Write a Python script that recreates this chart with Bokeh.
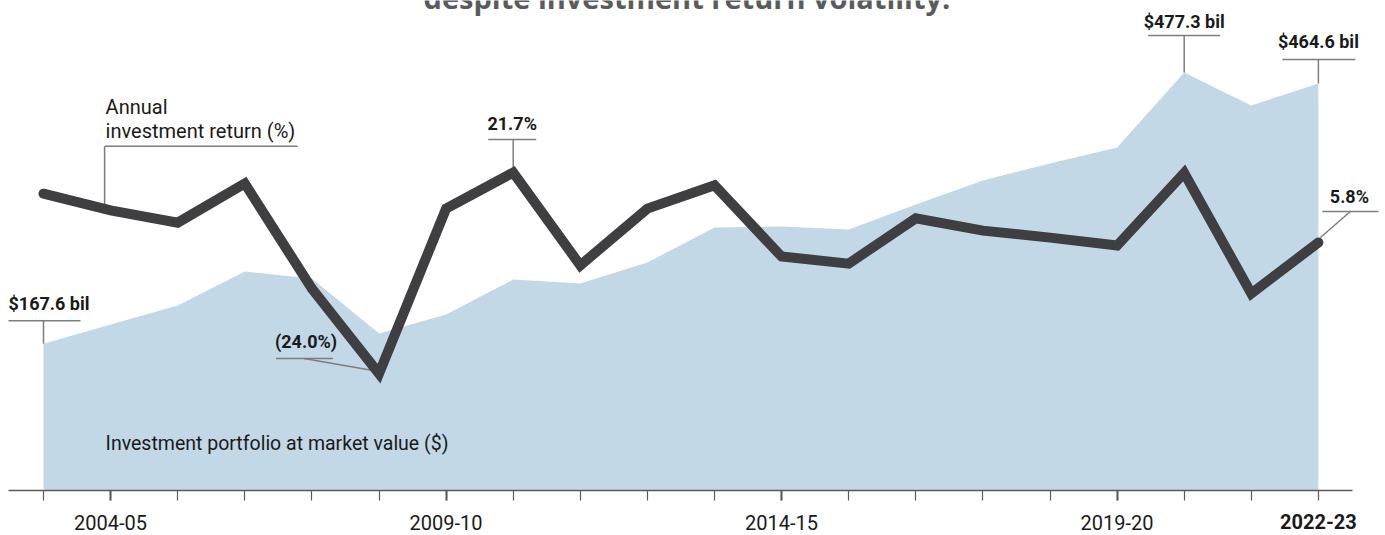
from bokeh.plotting import figure
from bokeh.models import Range1d, FixedTicker, Label, LinearAxis
from bokeh.embed import file_html
from bokeh.resources import INLINE

# ---------------- data ----------------
years = ["2003-04", "2004-05", "2005-06", "2006-07", "2007-08", "2008-09", "2009-10",
         "2010-11", "2011-12", "2012-13", "2013-14", "2014-15", "2015-16", "2016-17",
         "2017-18", "2018-19", "2019-20", "2020-21", "2021-22", "2022-23"]
portfolio_bil = [167.6, 189.5, 211.2, 250.0, 242.0, 179.2, 201.0, 240.9, 236.3, 260.3,
                 300.2, 301.4, 297.9, 326.5, 353.9, 373.3, 391.6, 477.3, 439.5, 464.6]
return_pct = [16.9, 13.1, 10.3, 19.2, -4.7, -24.0, 13.5, 21.7, 0.6, 13.5,
              18.8, 2.6, 1.0, 11.3, 8.5, 6.9, 5.1, 21.6, -5.8, 5.8]
labeled_years = ["2004-05", "2009-10", "2014-15", "2019-20"]
highlight_year = "2022-23"
title_text = "despite investment return volatility."
return_title = ["Annual", "investment return (%)"]
portfolio_title = "Investment portfolio at market value ($)"

# ---------------- layout constants ----------------
W, H = 1385, 535
FRAME_H = 490
X_PX = 67.1          # px per year
X0 = -43 / X_PX
V_PX = 0.876         # px per $bil
R_PX = 4.40          # px per return %
R_ZERO = 267.5       # px from top of frame to 0 %

AREA_COLOR = "#c3d8e6"
LINE_COLOR = "#3f3e40"
TEXT_COLOR = "#1a1a1a"
LEADER_COLOR = "#7d7d7d"
COND = "Roboto"
COND_SIZE = "18px"
SANS = "Roboto"
TICK_SIZE = "20px"
TICK_LABEL_H = 19


def px_x(n):
    return n / X_PX


def px_v(n):
    return n / V_PX


def px_r(n):
    return n / R_PX


idx = list(range(len(years)))

p = figure(width=W, height=H, output_backend="svg", toolbar_location=None,
           x_range=Range1d(X0, X0 + W / X_PX), y_range=Range1d(0, FRAME_H / V_PX),
           y_axis_location=None, min_border_left=0, min_border_right=0,
           min_border_top=0, min_border_bottom=H - FRAME_H)
p.extra_y_ranges = {"ret": Range1d(-(FRAME_H - R_ZERO) / R_PX, R_ZERO / R_PX)}
p.outline_line_color = None
p.grid.grid_line_color = None
p.background_fill_color = "white"
p.border_fill_color = "white"

# area
p.varea(x=idx, y1=0, y2=portfolio_bil, fill_color=AREA_COLOR)

# ---------------- callout leaders ----------------
pv = dict(x0=[], y0=[], x1=[], y1=[])
pr = dict(x0=[], y0=[], x1=[], y1=[])
labels = []


def seg(store, x0, y0, x1, y1):
    store["x0"].append(x0); store["y0"].append(y0)
    store["x1"].append(x1); store["y1"].append(y1)


# portfolio callouts: (index, underline above px, ul left, ul right, text dx, align, text centre above)
pf_callouts = [(0, 23, -35, 37, -35, "left", 40),
               (17, 37, -36, 36, 0, "center", 51),
               (19, 24, -36, 37, 0, "center", 42)]
for i, ua, ul, ur, tdx, al, ca in pf_callouts:
    v = portfolio_bil[i]
    seg(pv, i + px_x(ul), v + px_v(ua), i + px_x(ur), v + px_v(ua))
    seg(pv, i, v, i, v + px_v(ua))
    labels.append(Label(x=i + px_x(tdx), y=v + px_v(ca), text=f"${v:.1f} bil",
                        text_font=COND, text_font_style="bold", text_font_size=COND_SIZE,
                        text_color=TEXT_COLOR, text_align=al, text_baseline="middle"))


def fmt_ret(r):
    return f"({abs(r):.1f}%)" if r < 0 else f"{r:.1f}%"


# return callouts: (index, ul above, ul left, ul right, leader (dx0, up0, dx1, up1), text dx, align, centre above)
rt_callouts = [(7, 33, -25, 23, (0, 33, 0, 5), -1, "center", 49),
               (5, 15, -103, -46, (-75, 15, -6, 3), -104, "left", 32),
               (19, 31, 4, 60, (32, 31, 2, 5), 31, "center", 46)]
for i, ua, ul, ur, ld, tdx, al, ca in rt_callouts:
    r = return_pct[i]
    seg(pr, i + px_x(ul), r + px_r(ua), i + px_x(ur), r + px_r(ua))
    seg(pr, i + px_x(ld[0]), r + px_r(ld[1]), i + px_x(ld[2]), r + px_r(ld[3]))
    labels.append(Label(x=i + px_x(tdx), y=r + px_r(ca), text=fmt_ret(r),
                        text_font=COND, text_font_style="bold", text_font_size=COND_SIZE,
                        text_color=TEXT_COLOR, text_align=al, text_baseline="middle",
                        y_range_name="ret"))

# series title for the return line
ri = 1
rv = return_pct[ri]
seg(pr, ri + px_x(-6), rv + px_r(64), ri + px_x(187), rv + px_r(64))
seg(pr, ri + px_x(-6), rv + px_r(64), ri + px_x(-6), rv + px_r(3))
labels.append(Label(x=ri + px_x(-5), y=rv + px_r(103), text=return_title[0],
                    text_font=SANS, text_font_size="20px", text_color=TEXT_COLOR,
                    text_baseline="middle", y_range_name="ret"))
labels.append(Label(x=ri + px_x(-5), y=rv + px_r(79), text=return_title[1],
                    text_font=SANS, text_font_size="20px", text_color=TEXT_COLOR,
                    text_baseline="middle", y_range_name="ret"))

# series title for the area
labels.append(Label(x=1 + px_x(-5), y=px_v(47.5), text=portfolio_title,
                    text_font=SANS, text_font_size="19.5px", text_color=TEXT_COLOR,
                    text_baseline="middle"))

# chart title (cut off at the top as in the reference)
labels.append(Label(x=(len(years) - 1) / 2 + px_x(6), y=FRAME_H / V_PX + px_v(3),
                    text=title_text, text_font="Open Sans", text_font_style="bold",
                    text_font_size="29px", text_color="#5a5b5d", text_align="center",
                    text_baseline="middle"))

p.segment(x0="x0", y0="y0", x1="x1", y1="y1", source=pv, line_color=LEADER_COLOR, line_width=1.5)
p.segment(x0="x0", y0="y0", x1="x1", y1="y1", source=pr, line_color=LEADER_COLOR, line_width=1.5,
          y_range_name="ret")

# return line
p.line(x=idx, y=return_pct, y_range_name="ret", line_color=LINE_COLOR, line_width=10,
       line_join="miter", line_cap="round")

for lb in labels:
    p.add_layout(lb)

# ---------------- x axis ----------------
major = [years.index(y) for y in labeled_years]
ax = p.xaxis[0]
ax.ticker = FixedTicker(ticks=major, minor_ticks=idx)
ax.major_label_overrides = {i: years[i] for i in major}
ax.bounds = (X0 + px_x(8), X0 + px_x(1352))
ax.axis_line_color = "#5a5a5a"
ax.axis_line_width = 1.5
ax.major_tick_line_color = "#5a5a5a"
ax.major_tick_line_width = 2
ax.minor_tick_line_color = "#5a5a5a"
ax.minor_tick_line_width = 1.2
ax.major_tick_in = 0
ax.major_tick_out = 10
ax.minor_tick_in = 0
ax.minor_tick_out = 10
ax.major_label_standoff = 14
ax.major_label_text_font = SANS
ax.major_label_text_font_size = TICK_SIZE
ax.major_label_text_color = TEXT_COLOR

# bold label for the latest year, on a second (label-only) axis pulled up to the first one
hi = years.index(highlight_year)
ax2 = LinearAxis(ticker=FixedTicker(ticks=[hi], minor_ticks=[]),
                 major_label_overrides={hi: highlight_year},
                 axis_line_color=None, major_tick_line_color=None, minor_tick_line_color=None,
                 major_tick_in=0, major_tick_out=0, minor_tick_in=0, minor_tick_out=0,
                 major_label_standoff=-TICK_LABEL_H,
                 major_label_text_font=SANS, major_label_text_font_style="bold",
                 major_label_text_font_size=TICK_SIZE, major_label_text_color=TEXT_COLOR)
p.add_layout(ax2, "below")

open("out.html", "w").write(file_html(p, INLINE))
